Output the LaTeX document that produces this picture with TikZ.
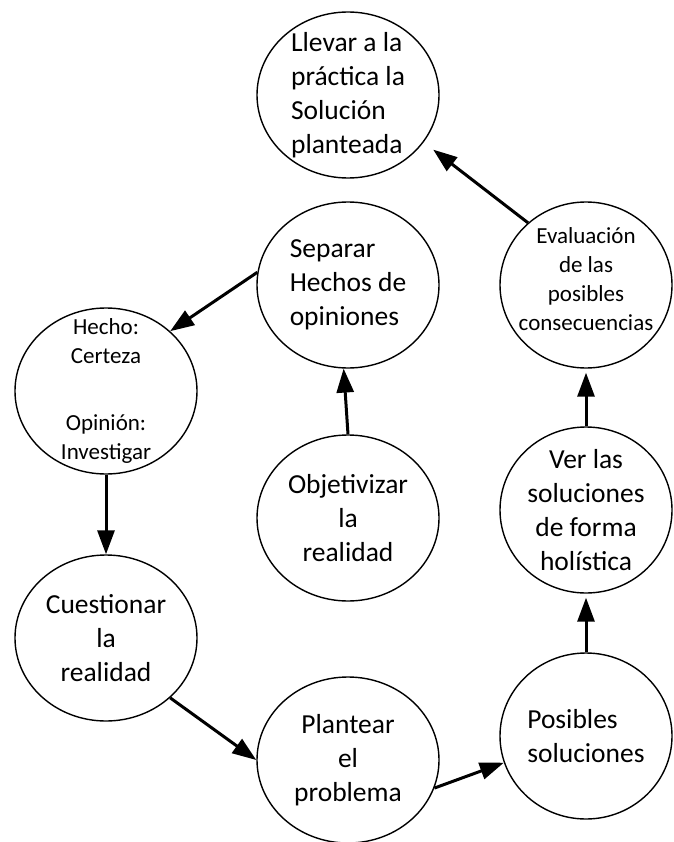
\documentclass[tikz,border=0pt]{standalone}
\usepackage{fontspec}
\setmainfont{Carlito}
\usetikzlibrary{shapes.geometric,arrows.meta}

\tikzset{
  stage/.style={draw, ellipse, line width=1.4pt, minimum width=182pt, minimum height=166pt, inner sep=0pt},
  narrow/.style={stage, minimum width=172pt},
  big/.style={font=\fontsize{27.5}{34}\selectfont},
  small/.style={font=\fontsize{23}{29}\selectfont},
  flow/.style={line width=3pt, -{Triangle[length=24pt,width=17pt]}}
}

\begin{document}
\begin{tikzpicture}[x=1pt,y=-1pt]
  \useasboundingbox (0,0) rectangle (673,842);

  \node[stage, label={[big,align=left]center:{Llevar a la\\práctica la\\Solución\\planteada}}] (llevar) at (348,95) {};
  \node[stage, label={[big,align=left]center:{Separar\\Hechos de\\opiniones}}] (separar) at (348,285) {};
  \node[narrow, label={[small,align=center,yshift=6pt]center:{Evaluación\\de las\\posibles\\consecuencias}}] (evaluar) at (586,285) {};
  \node[stage, label={[small,align=center]center:{Hecho:\\Certeza\\[38pt]Opinión:\\Investigar}}] (hecho) at (106,391) {};
  \node[stage, label={[big,align=center]center:{Objetivizar\\la\\realidad}}] (objetivar) at (348,518) {};
  \node[narrow, label={[big,align=center]center:{Ver las\\soluciones\\de forma\\holística}}] (ver) at (586,510) {};
  \node[stage, label={[big,align=center]center:{Cuestionar\\la\\realidad}}] (cuestionar) at (106,638) {};
  \node[stage, label={[big,align=center]center:{Plantear\\el\\problema}}] (plantear) at (348,760) {};
  \node[narrow, label={[big,align=left]center:{Posibles\\soluciones}}] (posibles) at (586,736) {};

  % flechas del ciclo
  \draw[flow] (objetivar.north) -- (separar.-93);
  \draw[flow] (separar.172) -- (hecho.43);
  \draw[flow] (hecho.south) -- (cuestionar.north);
  \draw[flow] (cuestionar.-43) -- (plantear.west);
  \draw[flow] (plantear.-18) -- (posibles.198);
  \draw[flow, shorten >=4pt] (posibles.north) -- (ver.south);
  \draw[flow, shorten >=4pt] (ver.north) -- (evaluar.south);
  \draw[flow, shorten >=12pt] (evaluar.133) -- (llevar.-32);
\end{tikzpicture}
\end{document}
